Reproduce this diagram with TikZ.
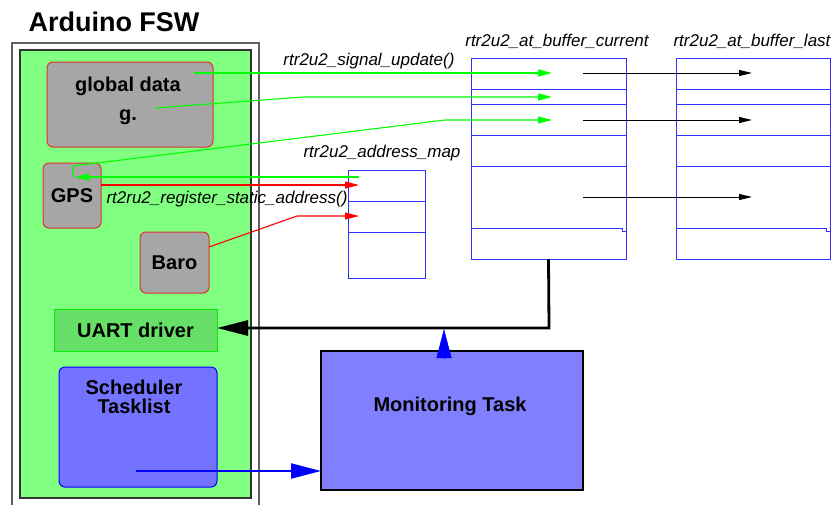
\documentclass[tikz,border=0pt]{standalone}
\usepackage{fontspec}
\setmainfont{Liberation Sans}
\usetikzlibrary{arrows.meta,calc}
\definecolor{fswgreen}{HTML}{80FF80}
\definecolor{uartfill}{HTML}{66E066}
\definecolor{uartbd}{HTML}{00EE00}
\definecolor{grayfill}{HTML}{A6A6A6}
\definecolor{graybd}{HTML}{E03030}
\definecolor{schedfill}{HTML}{7373FF}
\definecolor{monfill}{HTML}{8080FF}
\definecolor{memblue}{HTML}{3030FF}
\definecolor{outerbd}{HTML}{606060}
\definecolor{lgreen}{HTML}{00FF00}
\begin{document}
\begin{tikzpicture}[x=1pt,y=-1pt,
  box/.style={inner sep=0pt, outer sep=0pt},
  grayblk/.style={box, draw=graybd, fill=grayfill, rounded corners=6pt, line width=1pt},
  boldtxt/.style={font=\fontsize{20}{24}\selectfont\bfseries, inner sep=0pt},
  lbl/.style={font=\fontsize{17}{20}\selectfont\itshape, inner sep=0pt},
  membox/.style={box, draw=memblue, line width=1pt},
  memline/.style={draw=memblue, line width=1pt},
  garr/.style={draw=lgreen, line width=1.1pt, -{Triangle[length=14pt,width=7pt]}},
  rarr/.style={draw=red, line width=1.1pt, -{Triangle[length=14pt,width=7pt]}},
  karr/.style={draw=black, line width=1pt, -{Triangle[length=13pt,width=6pt]}},
  bigk/.style={draw=black, line width=2.8pt, -{Triangle[length=31pt,width=15pt]}},
  bigb/.style={draw=blue, fill=blue, line width=2pt, -{Triangle[length=30pt,width=15pt]}},
  upb/.style={draw=blue, fill=blue, line width=0.5pt, -{Triangle[length=29pt,width=15pt]}}
]
\useasboundingbox (0,0) rectangle (834,504);

% title
\node[font=\fontsize{27}{30}\selectfont\bfseries, inner sep=0pt] (title) at (114,22) {Arduino FSW};

% frames
\node[box, draw=outerbd, fill=white, line width=1.5pt, minimum width=247pt, minimum height=465pt] (outer) at (135.5,275.5) {};
\node[box, draw=black!80, fill=fswgreen, line width=1.5pt, minimum width=231pt, minimum height=448pt] (fsw) at (135.5,274) {};

% blocks
\node[grayblk, minimum width=166pt, minimum height=85pt] (gd) at (130,104.5) {};
\node[boldtxt] (gdt1) at (128,86) {global data};
\node[boldtxt] (gdt2) at (128,117) {g.};
\node[grayblk, boldtxt, minimum width=58pt, minimum height=65pt] (gps) at (72,195.5) {GPS};
\node[grayblk, boldtxt, minimum width=69pt, minimum height=61pt] (baro) at (174.5,262.5) {Baro};
\node[box, boldtxt, draw=uartbd, fill=uartfill, line width=1pt, minimum width=163pt, minimum height=42pt] (uart) at (135.5,330) {UART driver};
\node[box, draw=blue, fill=schedfill, rounded corners=6pt, line width=1pt, minimum width=158pt, minimum height=120pt] (sched) at (138,427) {};
\node[boldtxt, align=center, font=\fontsize{20}{19}\selectfont\bfseries] (schedt) at (134,397) {Scheduler\\Tasklist};
\node[box, draw=black, fill=monfill, line width=2.5pt, minimum width=262pt, minimum height=139pt] (mon) at (452,420.5) {};
\node[boldtxt] (mont) at (450,406) {Monitoring Task};

% memory structures
\node[membox, minimum width=77pt, minimum height=108pt] (am) at (386.5,224) {};
\foreach \yy in {201,232} \draw[memline] (am.west |- 0,\yy) -- (am.east |- 0,\yy);
\node[membox, minimum width=155pt, minimum height=201pt] (bc) at (548.5,158.5) {};
\node[membox, minimum width=154pt, minimum height=201pt] (bl) at (753,158.5) {};
\foreach \bb in {bc,bl} {
  \foreach \yy in {89,104,135,166} \draw[memline] (\bb.west |- 0,\yy) -- (\bb.east |- 0,\yy);
  \draw[memline] (\bb.west |- 0,228) -- ($(\bb.east |- 0,228)+(-4,0)$) -- ++(0,3) -- (\bb.east |- 0,231);
}

% labels
\node[lbl] (lsig) at (369,61) {rtr2u2\_signal\_update()};
\node[lbl] (lreg) at (227,199) {rt2ru2\_register\_static\_address()};
\node[lbl] (lam) at (382,153) {rtr2u2\_address\_map};
\node[lbl] (lbc) at (557,41) {rtr2u2\_at\_buffer\_current};
\node[lbl] (lbl) at (752,41) {rtr2u2\_at\_buffer\_last};

% coordinates for connector ends
\coordinate (g1s) at (194,73);
\coordinate (g1e) at (552,73);
\coordinate (g2s) at (155,108);
\coordinate (g2m) at (303,97);
\coordinate (g2e) at (552,97);
\coordinate (g3s) at (73,177);
\coordinate (g3k) at (73,166);
\coordinate (g3m) at (445,120);
\coordinate (g3e) at (552,120);
\coordinate (gas) at (359,177);
\coordinate (gae) at (75,177);
\coordinate (r1e) at (359,185);
\coordinate (r2s) at (209,247);
\coordinate (r2m) at (297,216);
\coordinate (r2e) at (359,216);
\coordinate (k1s) at (583,73);  \coordinate (k1e) at (752,73);
\coordinate (k2s) at (583,120); \coordinate (k2e) at (752,120);
\coordinate (k3s) at (583,197); \coordinate (k3e) at (752,197);
\coordinate (bus) at (549,328);
\coordinate (mups) at (444,359);
\coordinate (mupe) at (444,329);
\coordinate (schs) at (136,471);

% green
\draw[garr] (g1s) -- (g1e);
\draw[garr] (g2s) -- (g2m) -- (g2e);
\draw[garr] (g3s) -- (g3k) -- (g3m) -- (g3e);
\draw[garr] (gas) -- (gae);
% red
\draw[rarr] (gps.east |- r1e) -- (r1e);
\draw[rarr] (r2s) -- (r2m) -- (r2e);
% black buffer copies
\draw[karr] (k1s) -- (k1e);
\draw[karr] (k2s) -- (k2e);
\draw[karr] (k3s) -- (k3e);
% monitoring connections
\draw[bigk] (bc.south) -- (bus) -- (uart.east |- bus);
\draw[upb] (mups) -- (mupe);
\draw[bigb] (schs) -- (mon.west |- schs);
\end{tikzpicture}
\end{document}
